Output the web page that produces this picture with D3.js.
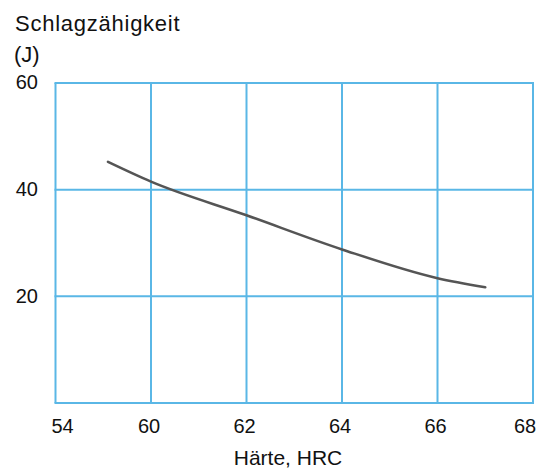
<!DOCTYPE html>
<html>
<head>
<meta charset="utf-8">
<script src="https://cdn.jsdelivr.net/npm/d3@7/dist/d3.min.js"></script>
<style>
  html, body { margin: 0; padding: 0; background: #fff; }
  svg { display: block; }
  text { font-family: "Liberation Sans", Arial, Helvetica, sans-serif; fill: #111; }
</style>
</head>
<body>
<svg id="chart" width="542" height="469"></svg>
<script>
// Data
const xTicks = [54, 60, 62, 64, 66, 68];
const xTickLabels = ["54", "60", "62", "64", "66", "68"];
const yTicks = [0, 20, 40, 60];
const yTickLabels = ["", "20", "40", "60"];
const hardness = [57.3, 60, 62, 64, 66, 67.0];
const impact = [45.2, 41.5, 35.2, 28.8, 23.4, 21.7];

const yTitle1 = "Schlagzähigkeit";
const yTitle2 = "(J)";
const xTitle = "Härte, HRC";

(function () {
const svg = d3.select("#chart");
const pLeft = 55.5, pRight = 533, pTop = 83, pBottom = 403;

// broken axis: 54 at left edge, then evenly spaced 60..68
const x = d3.scaleLinear()
  .domain(xTicks)
  .range(xTicks.map((d, i) => pLeft + i * (pRight - pLeft) / (xTicks.length - 1)));
const y = d3.scaleLinear().domain([0, 60]).range([pBottom, pTop]);

const gridColor = "#5ab7e6";

// grid
const g = svg.append("g");
g.selectAll("line.v").data(xTicks).enter().append("line")
  .attr("x1", d => x(d)).attr("x2", d => x(d))
  .attr("y1", pTop).attr("y2", pBottom)
  .attr("stroke", gridColor).attr("stroke-width", 2);
g.selectAll("line.h").data(yTicks).enter().append("line")
  .attr("x1", pLeft - 1).attr("x2", pRight + 1)
  .attr("y1", d => y(d)).attr("y2", d => y(d))
  .attr("stroke", gridColor).attr("stroke-width", 2);

// line
const pts = hardness.map((h, i) => [h, impact[i]]);
svg.append("path")
  .datum(pts)
  .attr("fill", "none")
  .attr("stroke", "#555555")
  .attr("stroke-width", 2.6)
  .attr("stroke-linecap", "round")
  .attr("d", d3.line().x(d => x(d[0])).y(d => y(d[1])).curve(d3.curveMonotoneX));

// x tick labels
const xOff = [7, -2, -2, -2, -2, -8];
svg.selectAll("text.xt").data(xTicks).enter().append("text")
  .attr("x", (d, i) => x(d) + xOff[i])
  .attr("y", 433)
  .attr("text-anchor", "middle")
  .attr("font-size", 20)
  .text((d, i) => xTickLabels[i]);

// y tick labels
svg.selectAll("text.yt").data(yTicks).enter().append("text")
  .attr("x", 38)
  .attr("y", d => y(d))
  .attr("dy", "0.32em")
  .attr("text-anchor", "end")
  .attr("font-size", 20)
  .text((d, i) => yTickLabels[i]);

// titles
svg.append("text").attr("x", 15).attr("y", 31).attr("font-size", 22)
  .attr("letter-spacing", 0.75).text(yTitle1);
svg.append("text").attr("x", 14).attr("y", 62).attr("font-size", 22).text(yTitle2);
svg.append("text").attr("x", 288).attr("y", 465).attr("text-anchor", "middle").attr("font-size", 21).text(xTitle);
})();
</script>
</body>
</html>
